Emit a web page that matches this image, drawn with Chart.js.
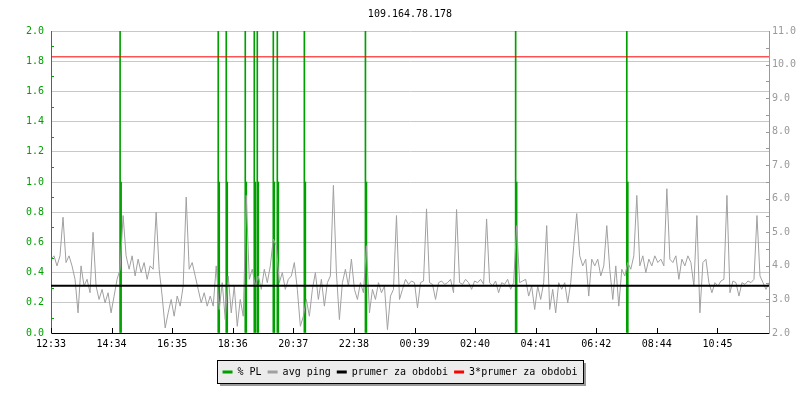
<!DOCTYPE html>
<html>
<head>
<meta charset="utf-8">
<script src="https://cdn.jsdelivr.net/npm/chart.js@4"></script>
<style>
  html, body { margin: 0; padding: 0; background: #fff; }
  #chart { display: block; }
</style>
</head>
<body>
<canvas id="chart" width="800" height="400"></canvas>
<script>
const chartTitle = "109.164.78.178";

// x axis: minutes since 12:33, one label every 121 min
const xLabels = ["12:33", "14:34", "16:35", "18:36", "20:37", "22:38",
                 "00:39", "02:40", "04:41", "06:42", "08:44", "10:45"];
const xTickStep = 121;
const xMax = 1434;
const sampleStep = 6; // minutes between avg ping samples

// avg ping [ms], right axis
const pingA = [4.2, 4.3, 4.0, 4.3, 5.45, 4.1, 4.3, 4.0, 3.6, 2.6,
               4.0, 3.4, 3.6, 3.2, 5.0, 3.4, 3.0, 3.3, 2.9, 3.2,
               2.6, 3.1, 3.6, 3.9, 5.5, 4.3, 3.9, 4.3, 3.7, 4.2,
               3.8, 4.1, 3.6, 4.0, 3.9, 5.6, 3.9, 3.1, 2.15, 2.6,
               3.0, 2.5, 3.1, 2.8, 3.4, 6.05, 3.9, 4.1, 3.7, 3.3,
               2.9, 3.2, 2.8, 3.1, 2.8, 4.0, 2.7, 3.5, 2.4, 3.7,
               2.6, 3.4, 2.2, 3.0, 2.5, 6.1, 3.6, 3.9, 3.4, 3.7,
               3.3, 3.9, 3.5, 4.0, 4.8, 4.6, 3.5, 3.8, 3.3, 3.6];
const pingB = [3.7, 4.1, 3.3, 2.2, 2.5, 3.0, 2.5, 3.3, 3.8, 3.0,
               3.6, 2.8, 3.5, 3.7, 6.4, 3.8, 2.4, 3.5, 3.9, 3.4,
               4.2, 3.3, 3.0, 3.5, 3.2, 4.6, 2.6, 3.3, 3.0, 3.5,
               3.2, 3.4, 2.1, 3.1, 3.3, 5.5, 3.0, 3.3, 3.6, 3.45,
               3.55, 3.5, 2.75, 3.5, 3.55, 5.7, 3.5, 3.45, 3.0, 3.5,
               3.55, 3.45, 3.5, 3.6, 3.2, 5.68, 3.5, 3.45, 3.6, 3.5,
               3.3, 3.55, 3.5, 3.6, 3.45, 5.4, 3.5, 3.4, 3.55, 3.2,
               3.5, 3.45, 3.6, 3.3, 3.5, 5.2, 3.5, 3.55, 3.6, 3.1];
const pingC = [3.4, 2.7, 3.4, 3.0, 3.5, 5.2, 2.7, 3.3, 2.6, 3.5,
               3.3, 3.5, 2.9, 3.5, 4.6, 5.56, 4.3, 4.0, 4.2, 3.1,
               4.2, 4.0, 4.2, 3.7, 4.0, 5.2, 3.9, 3.0, 4.0, 2.8,
               3.9, 3.7, 4.1, 3.9, 4.3, 6.1, 4.0, 4.3, 3.8, 4.2,
               4.0, 4.3, 4.1, 4.2, 4.0, 6.3, 4.2, 4.1, 4.3, 3.6,
               4.2, 4.0, 4.3, 4.1, 3.4, 5.5, 2.6, 4.1, 4.2, 3.5,
               3.2, 3.5, 3.4, 3.55, 3.6, 6.1, 3.2, 3.55, 3.5, 3.1,
               3.5, 3.45, 3.55, 3.5, 3.6, 5.5, 3.7, 3.5, 3.3, 3.5];
const avgPing = pingA.concat(pingB, pingC);

// packet loss events (minutes since start) and their values, left axis
const plTime  = [138, 140, 334, 336, 350, 352, 388, 390, 406, 408, 412, 414,
                 444, 446, 452, 454, 506, 508, 628, 630, 928, 930, 1150, 1152];
const plValue = [2, 1, 2, 1, 2, 1, 2, 1, 2, 1, 2, 1,
                 2, 1, 2, 1, 2, 1, 2, 1, 2, 1, 2, 1];

// period average and 3x period average [ms]
const periodAvg = 3.41;
const periodAvg3 = 10.23;

const green = "#00a000";
const gray = "#a0a0a0";
const mono = "'DejaVu Sans Mono', monospace";

const pingPoints = avgPing.map((v, i) => ({ x: i * sampleStep, y: v }));
const plPoints = plTime.map((t, i) => ({ x: t, y: plValue[i] }));

/* legend frame + inner tick marks */
const rrdDecor = {
    id: "rrdDecor",
    beforeDraw(chart) {
        const hb = chart.legend && chart.legend.legendHitBoxes;
        if (!hb || !hb.length) return;
        const ctx = chart.ctx;
        const left = Math.round(Math.min(...hb.map((h) => h.left))) - 6;
        const right = Math.round(Math.max(...hb.map((h) => h.left + h.width))) + 6;
        const top = Math.round(hb[0].top) - 7;
        const bottom = Math.round(hb[0].top + hb[0].height) + 6;
        ctx.save();
        ctx.fillStyle = "#9a9a9a";
        ctx.fillRect(left + 3, top + 3, right - left, bottom - top);
        ctx.fillStyle = "#ececec";
        ctx.fillRect(left, top, right - left, bottom - top);
        ctx.strokeStyle = "#000";
        ctx.lineWidth = 1;
        ctx.strokeRect(left + 0.5, top + 0.5, right - left, bottom - top);
        ctx.restore();
    },
    afterDraw(chart) {
        const ctx = chart.ctx;
        const a = chart.chartArea;
        const { x, y, y1 } = chart.scales;
        ctx.save();
        ctx.lineWidth = 1;
        ctx.strokeStyle = green;
        ctx.beginPath();
        for (let k = 1; k < 20; k += 2) {
            const py = Math.round(y.getPixelForValue(k / 10)) + 0.5;
            ctx.moveTo(a.left, py);
            ctx.lineTo(a.left + 3, py);
        }
        ctx.stroke();
        ctx.strokeStyle = "#999";
        ctx.beginPath();
        for (let v = 2.5; v < 11; v += 0.5) {
            const py = Math.round(y1.getPixelForValue(v)) + 0.5;
            ctx.moveTo(a.right - 3, py);
            ctx.lineTo(a.right, py);
        }
        ctx.stroke();
        ctx.strokeStyle = "#000";
        ctx.beginPath();
        x.ticks.forEach((t) => {
            const px = Math.round(x.getPixelForValue(t.value)) + 0.5;
            ctx.moveTo(px, a.bottom);
            ctx.lineTo(px, a.bottom - 5);
        });
        ctx.stroke();
        ctx.restore();
    },
};

new Chart(document.getElementById("chart").getContext("2d"), {
    type: "line",
    data: {
        datasets: [
            {
                type: "bar",
                label: "% PL",
                data: plPoints,
                yAxisID: "y",
                backgroundColor: green,
                borderWidth: 0,
                barThickness: 1,
                legendColor: green,
                order: 4,
            },
            {
                label: "avg ping",
                data: pingPoints,
                yAxisID: "y1",
                borderColor: gray,
                borderWidth: 1,
                pointRadius: 0,
                tension: 0,
                legendColor: gray,
                order: 3,
            },
            {
                label: "prumer za obdobi",
                data: [{ x: 0, y: periodAvg }, { x: xMax, y: periodAvg }],
                yAxisID: "y1",
                borderColor: "#000",
                borderWidth: 2,
                pointRadius: 0,
                legendColor: "#000",
                order: 2,
            },
            {
                label: "3*prumer za obdobi",
                data: [{ x: 0, y: periodAvg3 }, { x: xMax, y: periodAvg3 }],
                yAxisID: "y1",
                borderColor: "#ff0000",
                borderWidth: 1,
                pointRadius: 0,
                legendColor: "#ff0000",
                order: 1,
            },
        ],
    },
    options: {
        responsive: false,
        animation: false,
        layout: { padding: { left: 0, right: 0, top: 0, bottom: 13 } },
        scales: {
            x: {
                type: "linear",
                min: 0,
                max: xMax,
                offset: false,
                grid: { display: false, drawTicks: false, offset: false },
                border: { color: "#000", width: 1 },
                afterBuildTicks: (axis) => {
                    axis.ticks = xLabels.map((_, i) => ({ value: i * xTickStep }));
                },
                ticks: {
                    autoSkip: false,
                    maxRotation: 0,
                    padding: 5,
                    color: "#000",
                    font: { family: mono, size: 10 },
                    callback: (v, i) => xLabels[i],
                },
                afterFit: (s) => { s.height = 28; },
            },
            y: {
                position: "left",
                min: 0,
                max: 2,
                grid: { color: "#c8c8c8", drawTicks: false },
                border: { color: green, width: 1 },
                ticks: {
                    stepSize: 0.2,
                    padding: 7,
                    color: green,
                    font: { family: mono, size: 10 },
                    callback: (v) => v.toFixed(1),
                },
                afterFit: (s) => { s.width = 51; },
            },
            y1: {
                position: "right",
                min: 2,
                max: 11,
                grid: { drawOnChartArea: false, drawTicks: false },
                border: { color: "#999", width: 1 },
                ticks: {
                    stepSize: 1,
                    padding: 3,
                    color: "#999",
                    font: { family: mono, size: 10 },
                    callback: (v) => v.toFixed(1),
                },
                afterFit: (s) => { s.width = 31; },
            },
        },
        plugins: {
            title: {
                display: true,
                fullSize: false,
                text: chartTitle,
                color: "#000",
                font: { family: mono, size: 10, weight: "normal" },
                padding: { top: 8, bottom: 11 },
            },
            legend: {
                position: "bottom",
                labels: {
                    usePointStyle: true,
                    pointStyleWidth: 10,
                    boxWidth: 10,
                    padding: 6,
                    color: "#000",
                    font: { family: mono, size: 10 },
                    generateLabels: (chart) => chart.data.datasets.map((ds, i) => ({
                        text: ds.label,
                        fillStyle: ds.legendColor,
                        strokeStyle: ds.legendColor,
                        lineWidth: 3,
                        pointStyle: "line",
                        hidden: false,
                        datasetIndex: i,
                        fontColor: "#000",
                    })),
                },
            },
            tooltip: { enabled: false },
        },
    },
    plugins: [rrdDecor],
});
</script>
</body>
</html>
